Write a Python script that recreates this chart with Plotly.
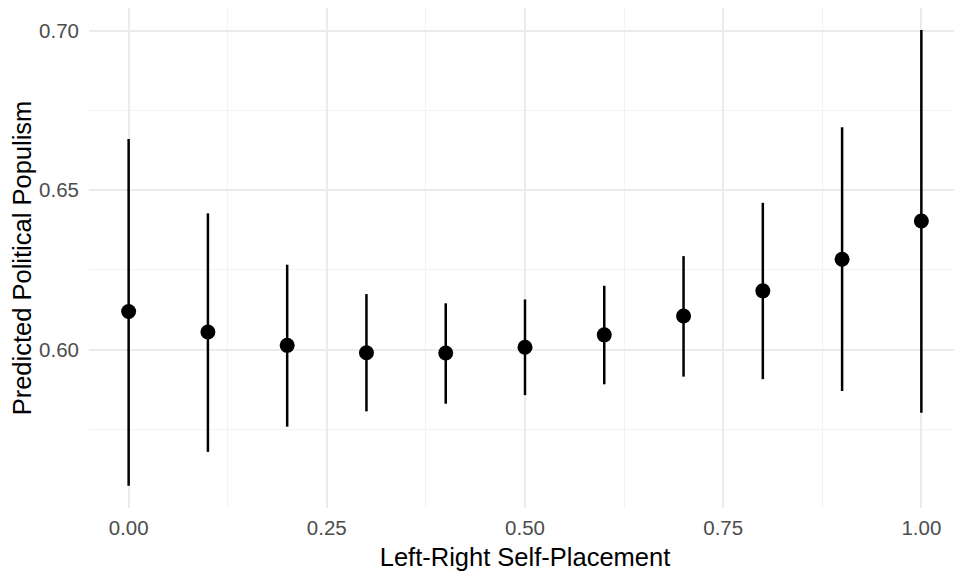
import plotly.graph_objects as go

x_vals = [0.0, 0.1, 0.2, 0.3, 0.4, 0.5, 0.6, 0.7, 0.8, 0.9, 1.0]
predicted = [0.6119, 0.6055, 0.6013, 0.5990, 0.5989, 0.6007, 0.6046, 0.6105, 0.6184, 0.6283, 0.6403]
upper = [0.6660, 0.6427, 0.6266, 0.6174, 0.6145, 0.6157, 0.6200, 0.6293, 0.6460, 0.6697, 0.7002]
lower = [0.5573, 0.5679, 0.5758, 0.5806, 0.5830, 0.5857, 0.5891, 0.5915, 0.5907, 0.5870, 0.5802]

x_ticks = [0.0, 0.25, 0.5, 0.75, 1.0]
y_ticks = [0.60, 0.65, 0.70]

err_plus = [u - p for u, p in zip(upper, predicted)]
err_minus = [p - l for p, l in zip(predicted, lower)]

fig = go.Figure()
fig.add_trace(go.Scatter(
    x=x_vals, y=predicted, mode="markers",
    marker=dict(size=15, color="black"),
    error_y=dict(type="data", symmetric=False, array=err_plus, arrayminus=err_minus,
                 color="black", thickness=2.5, width=0),
    showlegend=False,
))

# page body has an 8px default margin; figure sized/placed to compensate
fig.update_layout(
    width=954, height=567,
    margin=dict(l=81, r=1, t=0, b=67),
    plot_bgcolor="white", paper_bgcolor="white",
    font=dict(family="Liberation Sans, Arial, sans-serif"),
    xaxis=dict(
        range=[-0.05, 1.05], tickvals=x_ticks, tickformat=".2f",
        showgrid=True, gridcolor="#ebebeb", gridwidth=2,
        minor=dict(showgrid=True, gridcolor="#f3f3f3", gridwidth=1, dtick=0.25, tick0=0.125),
        zeroline=False, showline=False, ticks="", automargin=False,
        tickfont=dict(size=20.5, color="#4d4d4d"), ticklabelstandoff=5,
        title=dict(text="Left-Right Self-Placement", font=dict(size=25.5, color="black"), standoff=10),
    ),
    yaxis=dict(
        range=[0.5503, 0.7071], tickvals=y_ticks, tickformat=".2f",
        showgrid=True, gridcolor="#ebebeb", gridwidth=2,
        minor=dict(showgrid=True, gridcolor="#f3f3f3", gridwidth=1, dtick=0.05, tick0=0.575),
        zeroline=False, showline=False, ticks="", automargin=False,
        tickfont=dict(size=20.5, color="#4d4d4d"), ticklabelstandoff=9,
        title=dict(text="Predicted Political Populism", font=dict(size=25.5, color="black"), standoff=12),
    ),
)

fig.write_html("out.html")
